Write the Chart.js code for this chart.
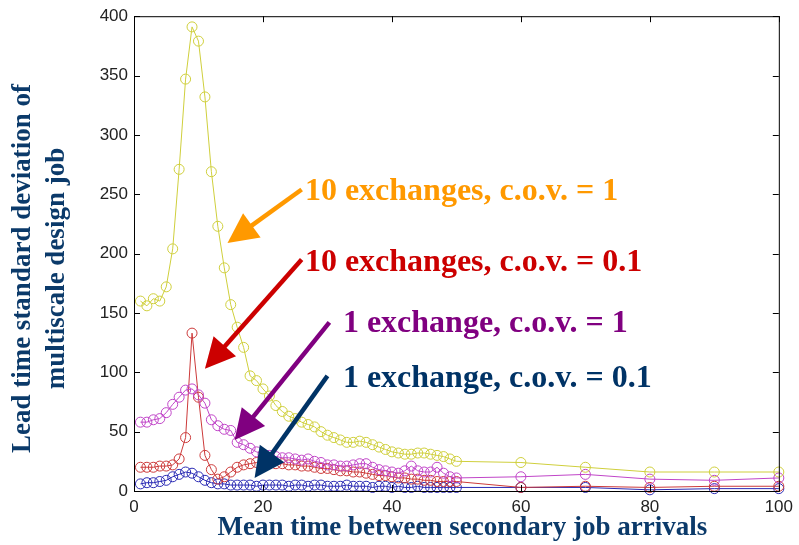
<!DOCTYPE html>
<html>
<head>
<meta charset="utf-8">
<script src="https://cdn.jsdelivr.net/npm/chart.js@4/dist/chart.umd.min.js"></script>
<style>
  html, body { margin: 0; padding: 0; background: #ffffff; }
  #wrap { width: 799px; height: 545px; }
</style>
</head>
<body>
<div id="wrap"><canvas id="c" width="799" height="545"></canvas></div>
<script>
// Mean time between secondary job arrivals
const meanTimes = [1,2,3,4,5,6,7,8,9,10,11,12,13,14,15,16,17,18,19,20,
  21,22,23,24,25,26,27,28,29,30,31,32,33,34,35,36,37,38,39,40,
  41,42,43,44,45,46,47,48,49,50,60,70,80,90,100];

// Lead time standard deviation for each configuration
const tenExchCov1 = [160,156,162,160,172,204,271,347,391,379,332,269,223,188,157,138,121,97,93,86,
  80,72,67,63,61,58,56,54,50,47,45,43,41,41,42,41,39,37,35,33,
  32,31,31,32,32,31,30,29,27,25,24,20,16,16,16];
const tenExchCov01 = [20,20,20,21,21,22,27,45,133,79,30,18,10,12,16,20,22,23,24,24,
  24,23,23,22,22,21,21,20,19,19,18,17,17,16,16,15,14,13,13,12,
  11,11,10,10,9,9,8,8,8,8,3,4,3,4,4];
const oneExchCov1 = [58,58,60,61,66,73,79,85,86,81,74,60,55,52,51,41,39,36,33,31,
  30,29,28,28,27,26,27,25,24,22,22,21,21,22,23,23,20,18,17,16,
  15,17,21,17,16,16,20,15,12,11,12,14,10,9,11];
const oneExchCov01 = [6,7,7,8,9,12,14,16,15,12,9,7,6,6,5,5,5,5,4,5,
  5,5,5,4,5,5,4,5,5,4,4,4,5,4,4,4,3,4,4,3,
  4,3,3,4,3,3,3,3,3,3,3,3,1,2,2];

const xTicks = [0,20,40,60,80,100];
const yTicks = [0,50,100,150,200,250,300,350,400];

const seriesNames = ['10 exchanges, c.o.v. = 1','10 exchanges, c.o.v. = 0.1','1 exchange, c.o.v. = 1','1 exchange, c.o.v. = 0.1'];
const xTitle = 'Mean time between secondary job arrivals';
const yTitleLines = ['Lead time standard deviation of', 'multiscale design job'];

// Callout labels with arrows, positioned in data units
const callouts = [
  { text: seriesNames[0], color: '#ff9900', tx: 26.5, ty: 252, from: [26.0, 254], to: [14.5, 209] },
  { text: seriesNames[1], color: '#cc0000', tx: 26.5, ty: 192, from: [26.0, 195], to: [11.0, 103] },
  { text: seriesNames[2], color: '#800080', tx: 32.4, ty: 141, from: [30.3, 142], to: [15.6, 43] },
  { text: seriesNames[3], color: '#003366', tx: 32.4, ty: 95, from: [30.0, 97], to: [18.7, 11] }
];

const serif = '"Liberation Serif", "Times New Roman", serif';
const titleColor = '#0b3a6a';

function series(label, values, color) {
  return {
    label,
    data: values.map((v, i) => ({ x: meanTimes[i], y: v })),
    borderColor: color,
    backgroundColor: 'rgba(0,0,0,0)',
    borderWidth: 1,
    pointStyle: 'circle',
    pointRadius: 5,
    pointBorderWidth: 1,
    pointBorderColor: color,
    pointBackgroundColor: 'rgba(0,0,0,0)',
    tension: 0,
    clip: false
  };
}

// MATLAB-style box with inward ticks on all sides
const boxTicks = {
  id: 'boxTicks',
  afterDatasetsDraw(chart) {
    const { ctx, chartArea: a, scales: { x, y } } = chart;
    ctx.save();
    ctx.strokeStyle = '#000';
    ctx.lineWidth = 1;
    ctx.strokeRect(a.left + 0.5, a.top + 0.5, a.right - a.left, a.bottom - a.top);
    const len = 6;
    ctx.beginPath();
    xTicks.forEach(t => {
      const px = Math.round(x.getPixelForValue(t)) + 0.5;
      ctx.moveTo(px, a.bottom); ctx.lineTo(px, a.bottom - len);
      ctx.moveTo(px, a.top); ctx.lineTo(px, a.top + len);
    });
    yTicks.forEach(t => {
      const py = Math.round(y.getPixelForValue(t)) + 0.5;
      ctx.moveTo(a.left, py); ctx.lineTo(a.left + len, py);
      ctx.moveTo(a.right, py); ctx.lineTo(a.right - len, py);
    });
    ctx.stroke();
    ctx.restore();
  }
};

// Axis titles, set slightly off-centre from the plot box
const axisTitles = {
  id: 'axisTitles',
  afterDraw(chart) {
    const { ctx, chartArea: a } = chart;
    ctx.save();
    ctx.fillStyle = titleColor;
    ctx.textAlign = 'center';
    ctx.textBaseline = 'middle';
    ctx.font = 'bold 27px ' + serif;
    ctx.fillText(xTitle, (a.left + a.right) / 2 + 6, 528);
    const cy = (a.top + a.bottom) / 2 + 15;
    ctx.translate(0, cy);
    ctx.rotate(-Math.PI / 2);
    ctx.fillText(yTitleLines[0], 0, 23);
    ctx.fillText(yTitleLines[1], 0, 57);
    ctx.restore();
  }
};

const calloutPlugin = {
  id: 'callouts',
  afterDraw(chart) {
    const { ctx, scales: { x, y } } = chart;
    ctx.save();
    callouts.forEach(c => {
      const x0 = x.getPixelForValue(c.from[0]), y0 = y.getPixelForValue(c.from[1]);
      const x1 = x.getPixelForValue(c.to[0]), y1 = y.getPixelForValue(c.to[1]);
      const ang = Math.atan2(y1 - y0, x1 - x0);
      const headLen = 30, headHalf = 15;
      const bx = x1 - headLen * Math.cos(ang), by = y1 - headLen * Math.sin(ang);
      ctx.strokeStyle = c.color;
      ctx.fillStyle = c.color;
      ctx.lineWidth = 4.5;
      ctx.beginPath();
      ctx.moveTo(x0, y0);
      ctx.lineTo(bx + 2 * Math.cos(ang), by + 2 * Math.sin(ang));
      ctx.stroke();
      ctx.beginPath();
      ctx.moveTo(x1, y1);
      ctx.lineTo(bx - headHalf * Math.sin(ang), by + headHalf * Math.cos(ang));
      ctx.lineTo(bx + headHalf * Math.sin(ang), by - headHalf * Math.cos(ang));
      ctx.closePath();
      ctx.fill();

      ctx.font = 'bold 32px ' + serif;
      ctx.textBaseline = 'middle';
      ctx.textAlign = 'left';
      ctx.fillText(c.text, x.getPixelForValue(c.tx), y.getPixelForValue(c.ty));
    });
    ctx.restore();
  }
};

new Chart(document.getElementById('c'), {
  type: 'line',
  data: {
    datasets: [
      series(seriesNames[0], tenExchCov1, '#cfcf3c'),
      series(seriesNames[2], oneExchCov1, '#c045c8'),
      series(seriesNames[1], tenExchCov01, '#cc3a3a'),
      series(seriesNames[3], oneExchCov01, '#2a2ab4')
    ]
  },
  options: {
    responsive: false,
    animation: false,
    devicePixelRatio: 1,
    layout: { padding: { top: 14, right: 19, left: 0, bottom: 0 } },
    plugins: { legend: { display: false }, tooltip: { enabled: false } },
    scales: {
      x: {
        type: 'linear',
        min: 0, max: 100,
        afterBuildTicks: s => { s.ticks = xTicks.map(v => ({ value: v })); },
        afterFit: s => { s.height = 54; },
        grid: { display: false, drawTicks: false },
        border: { display: false },
        ticks: { color: '#222', padding: 6, font: { family: '"Liberation Sans", Arial, sans-serif', size: 17 } },
        title: { display: false }
      },
      y: {
        type: 'linear',
        min: 0, max: 400,
        afterBuildTicks: s => { s.ticks = yTicks.map(v => ({ value: v })); },
        afterFit: s => { s.width = 134; },
        grid: { display: false, drawTicks: false },
        border: { display: false },
        ticks: { color: '#222', padding: 6, font: { family: '"Liberation Sans", Arial, sans-serif', size: 17 } },
        title: { display: false }
      }
    }
  },
  plugins: [boxTicks, axisTitles, calloutPlugin]
});
</script>
</body>
</html>
